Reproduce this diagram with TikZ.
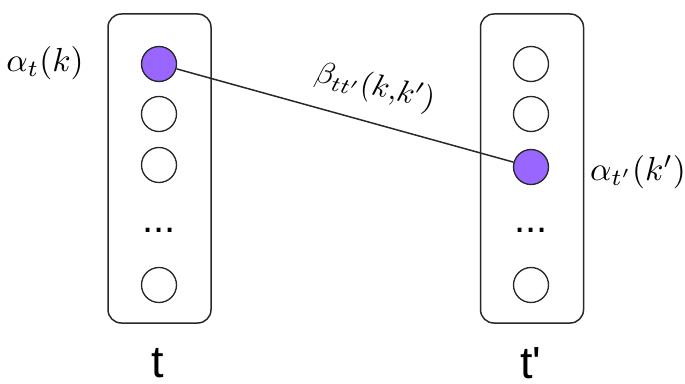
\documentclass[tikz,border=0pt]{standalone}
\usepackage{fontspec}
\newfontfamily\arialfont{Liberation Sans}
\definecolor{violetfill}{RGB}{153,102,255}
\definecolor{edgegray}{RGB}{40,40,40}
\begin{document}
\begin{tikzpicture}[x=0.3pt,y=-0.3pt,
  column/.style={draw=edgegray,line width=0.45pt,rounded corners=4pt,minimum width=30.9pt,minimum height=92.7pt,inner sep=0pt},
  state/.style={circle,draw=edgegray,line width=0.4pt,minimum size=10.5pt,inner sep=0pt,fill=white},
  active/.style={state,fill=violetfill},
  dotsnode/.style={font=\arialfont\fontsize{12}{14}\selectfont,inner sep=0pt},
  timelbl/.style={font=\arialfont\fontsize{13.5}{15}\selectfont,inner sep=0pt}]
\useasboundingbox (0,0) rectangle (685,383);
% boxes
\node[column] (L) at (159.5,168.5) {};
\node[column] (R) at (532,168.5) {};
% left states
\node[active] (a1) at (159,64) {};
\node[state] (a2) at (159,114) {};
\node[state] (a3) at (159,165) {};
\node[dotsnode] (a4) at (159,230) {...};
\node[state] (a5) at (159,285) {};
% right states
\node[state] (b1) at (531,64) {};
\node[state] (b2) at (531,114) {};
\node[active] (b3) at (531,167) {};
\node[dotsnode] (b4) at (531,230) {...};
\node[state] (b5) at (531,285) {};
% connector
\draw[edgegray,line width=0.45pt] (a1) -- (b3);
% labels
\node[inner sep=0pt] (la) at (45,63) {$\alpha_t(k)$};
\node[inner sep=0pt] (lb) at (638,172) {$\alpha_{t'}(k')$};
\node[rotate=-13,scale=0.93,inner sep=0pt] (lbeta) at (375,88) {$\beta_{tt'}(k{,}k')$};
\node[timelbl] (tl) at (158,363) {t};
\node[timelbl] (tr) at (531,363) {t'};
\end{tikzpicture}
\end{document}
